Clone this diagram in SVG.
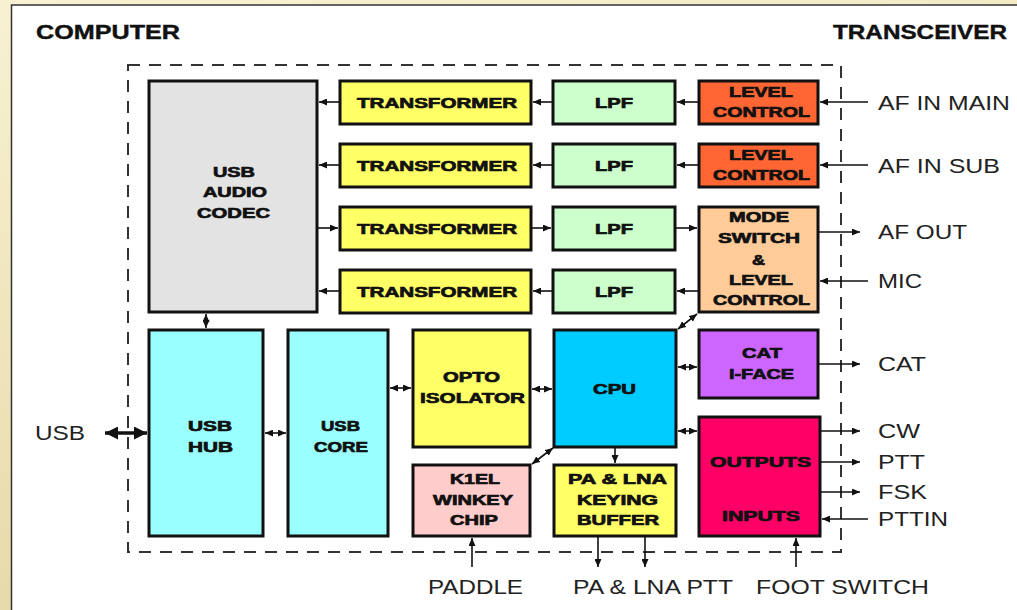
<svg xmlns="http://www.w3.org/2000/svg" width="1017" height="610" viewBox="0 0 1017 610">
  <defs>
    <linearGradient id="frameBg" x1="0" y1="0" x2="0.3" y2="1">
      <stop offset="0" stop-color="#f8f2d2"/>
      <stop offset="1" stop-color="#e6d8a6"/>
    </linearGradient>
    <marker id="ah" viewBox="0 0 8 7" refX="8" refY="3.5" markerWidth="8" markerHeight="7" markerUnits="userSpaceOnUse" orient="auto-start-reverse">
      <path d="M0,0 L8,3.5 L0,7 z" fill="#111"/>
    </marker>
    <marker id="ahBig" viewBox="0 0 13 13" refX="13" refY="6.5" markerWidth="13" markerHeight="13" markerUnits="userSpaceOnUse" orient="auto-start-reverse">
      <path d="M0,0 L13,6.5 L0,13 z" fill="#111"/>
    </marker>
  </defs>
  <style>
    .box { stroke: #111; stroke-width: 3; }
    .lbl { font-family: "Liberation Sans", Arial, sans-serif; font-weight: bold; font-size: 14.5px; fill: #111; text-anchor: start; stroke: #111; stroke-width: 0.7; }
    .ext { font-family: "Liberation Sans", Arial, sans-serif; font-size: 21px; fill: #222; }
    .hdr { font-family: "Liberation Sans", Arial, sans-serif; font-weight: bold; font-size: 19.5px; fill: #111; stroke: #111; stroke-width: 0.4; }
    .wire { stroke: #111; stroke-width: 1.6; fill: none; }
    .one { marker-end: url(#ah); }
    .two { marker-start: url(#ah); marker-end: url(#ah); }
    .c-codec { fill: #e3e3e3; }
    .c-yellow { fill: #ffff66; }
    .c-lpf { fill: #ccffcc; }
    .c-level { fill: #ff6633; }
    .c-mode { fill: #ffcc99; }
    .c-usb { fill: #99ffff; }
    .c-cpu { fill: #00ccff; }
    .c-pink { fill: #ffcccc; }
    .c-cat { fill: #cc66ff; }
    .c-io { fill: #ff0066; }
  </style>

  <!-- page frame -->
  <rect x="0" y="0" width="1017" height="610" fill="url(#frameBg)"/>
  <rect x="11.5" y="5" width="1010" height="610" fill="#ffffff" stroke="#333" stroke-width="1.5"/>

  <!-- headers -->
  <text class="hdr" x="36" y="39" textLength="144" lengthAdjust="spacingAndGlyphs">COMPUTER</text>
  <text class="hdr" x="833" y="39" textLength="174" lengthAdjust="spacingAndGlyphs">TRANSCEIVER</text>

  <!-- interface boundary -->
  <rect x="128" y="65" width="713" height="487" fill="none" stroke="#333" stroke-width="2" stroke-dasharray="12,9"/>

  <!-- nodes -->
  <g id="usb-audio-codec">
    <rect class="box c-codec" x="149" y="81" width="168" height="231"/>
    <text class="lbl" x="213" y="177" textLength="42" lengthAdjust="spacingAndGlyphs">USB</text>
    <text class="lbl" x="203" y="197" textLength="64" lengthAdjust="spacingAndGlyphs">AUDIO</text>
    <text class="lbl" x="197" y="218" textLength="73" lengthAdjust="spacingAndGlyphs">CODEC</text>
  </g>

  <g id="transformer-1">
    <rect class="box c-yellow" x="340" y="81" width="191" height="43"/>
    <text class="lbl" x="357" y="108" textLength="160" lengthAdjust="spacingAndGlyphs">TRANSFORMER</text>
  </g>
  <g id="transformer-2">
    <rect class="box c-yellow" x="340" y="144" width="191" height="43"/>
    <text class="lbl" x="357" y="171" textLength="160" lengthAdjust="spacingAndGlyphs">TRANSFORMER</text>
  </g>
  <g id="transformer-3">
    <rect class="box c-yellow" x="340" y="207" width="191" height="43"/>
    <text class="lbl" x="357" y="234" textLength="160" lengthAdjust="spacingAndGlyphs">TRANSFORMER</text>
  </g>
  <g id="transformer-4">
    <rect class="box c-yellow" x="340" y="270" width="191" height="43"/>
    <text class="lbl" x="357" y="297" textLength="160" lengthAdjust="spacingAndGlyphs">TRANSFORMER</text>
  </g>

  <g id="lpf-1">
    <rect class="box c-lpf" x="553" y="81" width="122" height="43"/>
    <text class="lbl" x="595" y="108" textLength="38" lengthAdjust="spacingAndGlyphs">LPF</text>
  </g>
  <g id="lpf-2">
    <rect class="box c-lpf" x="553" y="144" width="122" height="43"/>
    <text class="lbl" x="595" y="171" textLength="38" lengthAdjust="spacingAndGlyphs">LPF</text>
  </g>
  <g id="lpf-3">
    <rect class="box c-lpf" x="553" y="207" width="122" height="43"/>
    <text class="lbl" x="595" y="234" textLength="38" lengthAdjust="spacingAndGlyphs">LPF</text>
  </g>
  <g id="lpf-4">
    <rect class="box c-lpf" x="553" y="270" width="122" height="43"/>
    <text class="lbl" x="595" y="297" textLength="38" lengthAdjust="spacingAndGlyphs">LPF</text>
  </g>

  <g id="level-control-main">
    <rect class="box c-level" x="699" y="81" width="119" height="43"/>
    <text class="lbl" x="729" y="97" textLength="64" lengthAdjust="spacingAndGlyphs">LEVEL</text>
    <text class="lbl" x="713" y="117" textLength="97" lengthAdjust="spacingAndGlyphs">CONTROL</text>
  </g>
  <g id="level-control-sub">
    <rect class="box c-level" x="699" y="144" width="119" height="43"/>
    <text class="lbl" x="729" y="160" textLength="64" lengthAdjust="spacingAndGlyphs">LEVEL</text>
    <text class="lbl" x="713" y="180" textLength="97" lengthAdjust="spacingAndGlyphs">CONTROL</text>
  </g>
  <g id="mode-switch">
    <rect class="box c-mode" x="699" y="207" width="119" height="105"/>
    <text class="lbl" x="729" y="222" textLength="60" lengthAdjust="spacingAndGlyphs">MODE</text>
    <text class="lbl" x="718" y="243" textLength="82" lengthAdjust="spacingAndGlyphs">SWITCH</text>
    <text class="lbl" x="752" y="265" textLength="13" lengthAdjust="spacingAndGlyphs">&amp;</text>
    <text class="lbl" x="729" y="285" textLength="64" lengthAdjust="spacingAndGlyphs">LEVEL</text>
    <text class="lbl" x="713" y="305" textLength="97" lengthAdjust="spacingAndGlyphs">CONTROL</text>
  </g>

  <g id="usb-hub">
    <rect class="box c-usb" x="149" y="330" width="114" height="206"/>
    <text class="lbl" x="188" y="431" textLength="44" lengthAdjust="spacingAndGlyphs">USB</text>
    <text class="lbl" x="188" y="452" textLength="45" lengthAdjust="spacingAndGlyphs">HUB</text>
  </g>
  <g id="usb-core">
    <rect class="box c-usb" x="288" y="330" width="100" height="206"/>
    <text class="lbl" x="321" y="431" textLength="39" lengthAdjust="spacingAndGlyphs">USB</text>
    <text class="lbl" x="314" y="452" textLength="54" lengthAdjust="spacingAndGlyphs">CORE</text>
  </g>
  <g id="opto-isolator">
    <rect class="box c-yellow" x="413" y="330" width="117" height="117"/>
    <text class="lbl" x="443" y="382" textLength="57" lengthAdjust="spacingAndGlyphs">OPTO</text>
    <text class="lbl" x="420" y="403" textLength="105" lengthAdjust="spacingAndGlyphs">ISOLATOR</text>
  </g>
  <g id="cpu">
    <rect class="box c-cpu" x="554" y="330" width="122" height="117"/>
    <text class="lbl" x="593" y="394" textLength="43" lengthAdjust="spacingAndGlyphs">CPU</text>
  </g>
  <g id="k1el-winkey">
    <rect class="box c-pink" x="413" y="465" width="117" height="71"/>
    <text class="lbl" x="450" y="484" textLength="50" lengthAdjust="spacingAndGlyphs">K1EL</text>
    <text class="lbl" x="433" y="505" textLength="80" lengthAdjust="spacingAndGlyphs">WINKEY</text>
    <text class="lbl" x="450" y="525" textLength="48" lengthAdjust="spacingAndGlyphs">CHIP</text>
  </g>
  <g id="keying-buffer">
    <rect class="box c-yellow" x="554" y="465" width="122" height="71"/>
    <text class="lbl" x="568" y="484" textLength="99" lengthAdjust="spacingAndGlyphs">PA &amp; LNA</text>
    <text class="lbl" x="577" y="505" textLength="81" lengthAdjust="spacingAndGlyphs">KEYING</text>
    <text class="lbl" x="577" y="525" textLength="82" lengthAdjust="spacingAndGlyphs">BUFFER</text>
  </g>
  <g id="cat-interface">
    <rect class="box c-cat" x="699" y="330" width="119" height="68"/>
    <text class="lbl" x="742" y="358" textLength="40" lengthAdjust="spacingAndGlyphs">CAT</text>
    <text class="lbl" x="729" y="379" textLength="65" lengthAdjust="spacingAndGlyphs">I-FACE</text>
  </g>
  <g id="outputs-inputs">
    <rect class="box c-io" x="699" y="417" width="121" height="119"/>
    <text class="lbl" x="710" y="467" textLength="101" lengthAdjust="spacingAndGlyphs">OUTPUTS</text>
    <text class="lbl" x="722" y="521" textLength="78" lengthAdjust="spacingAndGlyphs">INPUTS</text>
  </g>

  <!-- external signal labels -->
  <g id="external-labels">
    <text class="ext" x="878" y="110" textLength="132" lengthAdjust="spacingAndGlyphs">AF IN MAIN</text>
    <text class="ext" x="878" y="173" textLength="122" lengthAdjust="spacingAndGlyphs">AF IN SUB</text>
    <text class="ext" x="878" y="239" textLength="89" lengthAdjust="spacingAndGlyphs">AF OUT</text>
    <text class="ext" x="878" y="288" textLength="44" lengthAdjust="spacingAndGlyphs">MIC</text>
    <text class="ext" x="878" y="371" textLength="48" lengthAdjust="spacingAndGlyphs">CAT</text>
    <text class="ext" x="878" y="438" textLength="42" lengthAdjust="spacingAndGlyphs">CW</text>
    <text class="ext" x="878" y="469" textLength="47" lengthAdjust="spacingAndGlyphs">PTT</text>
    <text class="ext" x="878" y="499" textLength="49" lengthAdjust="spacingAndGlyphs">FSK</text>
    <text class="ext" x="878" y="526" textLength="70" lengthAdjust="spacingAndGlyphs">PTTIN</text>
    <text class="ext" x="35" y="440" textLength="50" lengthAdjust="spacingAndGlyphs">USB</text>
    <text class="ext" x="428" y="594" textLength="95" lengthAdjust="spacingAndGlyphs">PADDLE</text>
    <text class="ext" x="573" y="594" textLength="160" lengthAdjust="spacingAndGlyphs">PA &amp; LNA PTT</text>
    <text class="ext" x="756" y="594" textLength="173" lengthAdjust="spacingAndGlyphs">FOOT SWITCH</text>
  </g>

  <!-- connectors -->
  <g id="connectors">
    <!-- audio row 1 -->
    <line class="wire one" x1="340" y1="102" x2="319" y2="102"/>
    <line class="wire one" x1="553" y1="102" x2="533" y2="102"/>
    <line class="wire one" x1="699" y1="102" x2="677" y2="102"/>
    <line class="wire one" x1="868" y1="102" x2="820" y2="102"/>
    <!-- audio row 2 -->
    <line class="wire one" x1="340" y1="165" x2="319" y2="165"/>
    <line class="wire one" x1="553" y1="165" x2="533" y2="165"/>
    <line class="wire one" x1="699" y1="165" x2="677" y2="165"/>
    <line class="wire one" x1="868" y1="165" x2="820" y2="165"/>
    <!-- audio row 3 -->
    <line class="wire one" x1="317" y1="228" x2="338" y2="228"/>
    <line class="wire one" x1="531" y1="228" x2="551" y2="228"/>
    <line class="wire one" x1="675" y1="228" x2="697" y2="228"/>
    <line class="wire one" x1="818" y1="232" x2="860" y2="232"/>
    <!-- audio row 4 -->
    <line class="wire one" x1="340" y1="291" x2="319" y2="291"/>
    <line class="wire one" x1="553" y1="291" x2="533" y2="291"/>
    <line class="wire one" x1="699" y1="291" x2="677" y2="291"/>
    <line class="wire one" x1="868" y1="281" x2="820" y2="281"/>

    <!-- codec to hub -->
    <line class="wire two" x1="206" y1="314" x2="206" y2="328"/>
    <!-- USB host link -->
    <line x1="105" y1="433" x2="147" y2="433" stroke="#111" stroke-width="3.5" marker-start="url(#ahBig)" marker-end="url(#ahBig)"/>
    <!-- hub / core / opto / cpu chain -->
    <line class="wire two" x1="265" y1="433" x2="286" y2="433"/>
    <line class="wire two" x1="390" y1="388" x2="411" y2="388"/>
    <line class="wire two" x1="532" y1="389" x2="552" y2="389"/>
    <!-- cpu to side blocks -->
    <line class="wire two" x1="678" y1="367" x2="697" y2="367"/>
    <line class="wire two" x1="678" y1="431" x2="697" y2="431"/>
    <line class="wire two" x1="697" y1="314" x2="678" y2="329"/>
    <line class="wire two" x1="553" y1="448" x2="532" y2="464"/>
    <line class="wire one" x1="615" y1="448" x2="615" y2="463"/>

    <!-- transceiver side -->
    <line class="wire one" x1="818" y1="364" x2="860" y2="364"/>
    <line class="wire one" x1="820" y1="431" x2="860" y2="431"/>
    <line class="wire one" x1="820" y1="462" x2="860" y2="462"/>
    <line class="wire one" x1="820" y1="492" x2="860" y2="492"/>
    <line class="wire one" x1="868" y1="519" x2="822" y2="519"/>

    <!-- bottom connections -->
    <line class="wire one" x1="472" y1="567" x2="472" y2="538"/>
    <line class="wire one" x1="598" y1="537" x2="598" y2="567"/>
    <line class="wire one" x1="645" y1="537" x2="645" y2="567"/>
    <line class="wire one" x1="796" y1="567" x2="796" y2="538"/>
  </g>
</svg>
